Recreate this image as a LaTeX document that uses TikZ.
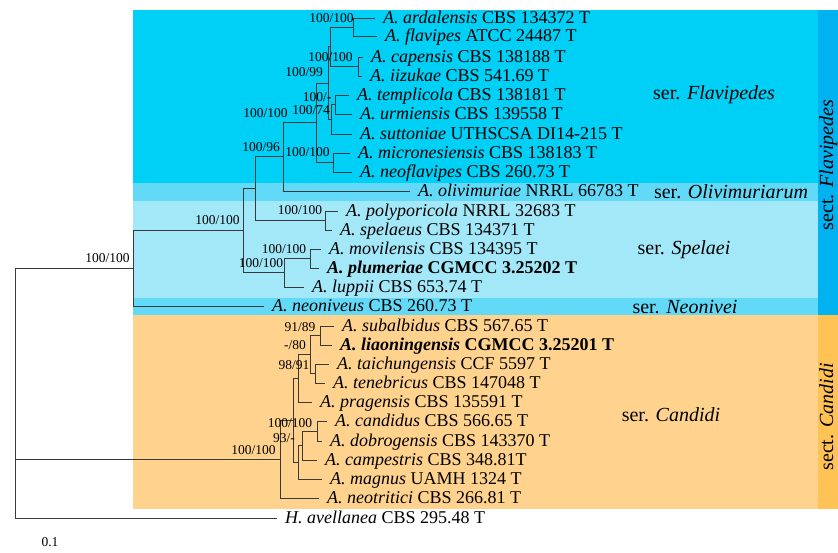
\documentclass[tikz,border=0pt]{standalone}
\usepackage{fontspec}
\setmainfont{Liberation Serif}
\usepackage{xcolor}
\usepackage{tikz}
\usetikzlibrary{backgrounds}
\definecolor{SerFlav}{HTML}{00CFF6}
\definecolor{SerOliv}{HTML}{62DAF7}
\definecolor{SerSpel}{HTML}{A3E8F9}
\definecolor{SerCand}{HTML}{FFD38E}
\definecolor{SectFlav}{HTML}{00B2F0}
\definecolor{SectCand}{HTML}{FFC255}
\definecolor{TreeLine}{HTML}{3A3A3A}

\begin{document}
\begin{tikzpicture}[
  x=1pt, y=-1pt,
  taxon/.style={anchor=west, inner xsep=8pt, inner ysep=0pt, text height=13.4pt, text depth=2.2pt, font=\fontsize{18}{19}\selectfont},
  boot/.style={inner sep=0pt, font=\fontsize{13.5}{14}\selectfont},
  serlab/.style={inner sep=0pt, font=\fontsize{20}{22}\selectfont},
  sectlab/.style={inner sep=0pt, anchor=base, rotate=90, font=\fontsize{20}{22}\selectfont},
  branch/.style={draw=TreeLine, line width=0.9pt}
]
  \useasboundingbox (0,0) rectangle (838,552);

  % taxa
  \node[taxon] (ardal) at (375,18) {\textit{A. ardalensis} CBS 134372 T};
  \node[taxon] (flav) at (377,36) {\textit{A. flavipes} ATCC 24487 T};
  \node[taxon] (capen) at (363,57) {\textit{A. capensis} CBS 138188 T};
  \node[taxon] (iizuk) at (362,76) {\textit{A. iizukae} CBS 541.69 T};
  \node[taxon] (templ) at (349,95) {\textit{A. templicola} CBS 138181 T};
  \node[taxon] (urmi) at (352,114) {\textit{A. urmiensis} CBS 139558 T};
  \node[taxon] (sutt) at (352,134) {\textit{A. suttoniae} UTHSCSA DI14-215 T};
  \node[taxon] (micro) at (350,153) {\textit{A. micronesiensis} CBS 138183 T};
  \node[taxon] (neofl) at (352,172) {\textit{A. neoflavipes} CBS 260.73 T};
  \node[taxon] (olivi) at (410,191) {\textit{A. olivimuriae} NRRL 66783 T};
  \node[taxon] (polyp) at (338,211) {\textit{A. polyporicola} NRRL 32683 T};
  \node[taxon] (spel) at (332,230) {\textit{A. spelaeus} CBS 134371 T};
  \node[taxon] (movil) at (321,249) {\textit{A. movilensis} CBS 134395 T};
  \node[taxon] (plum) at (319,268) {\textbf{\textit{A. plumeriae} CGMCC 3.25202 T}};
  \node[taxon] (lupp) at (304,287) {\textit{A. luppii} CBS 653.74 T};
  \node[taxon] (neon) at (264,306) {\textit{A. neoniveus} CBS 260.73 T};
  \node[taxon] (subal) at (334,326) {\textit{A. subalbidus} CBS 567.65 T};
  \node[taxon] (liao) at (332,345) {\textbf{\textit{A. liaoningensis} CGMCC 3.25201 T}};
  \node[taxon] (taich) at (329,364) {\textit{A. taichungensis} CCF 5597 T};
  \node[taxon] (teneb) at (325,383) {\textit{A. tenebricus} CBS 147048 T};
  \node[taxon] (prag) at (312,402) {\textit{A. pragensis} CBS 135591 T};
  \node[taxon] (cand) at (327,421) {\textit{A. candidus} CBS 566.65 T};
  \node[taxon] (dobro) at (322,441) {\textit{A. dobrogensis} CBS 143370 T};
  \node[taxon] (campe) at (317,460) {\textit{A. campestris} CBS 348.81T};
  \node[taxon] (magn) at (322,479) {\textit{A. magnus} UAMH 1324 T};
  \node[taxon] (neotr) at (319,498) {\textit{A. neotritici} CBS 266.81 T};
  \node[taxon] (avell) at (277,518) {\textit{H. avellanea} CBS 295.48 T};

  % internal nodes
  \coordinate (n_af) at (353,27);
  \coordinate (n_ci) at (358,66.5);
  \coordinate (n_ai) at (330,46.75);
  \coordinate (n_tu) at (335,104.5);
  \coordinate (n_ts) at (331,119);
  \coordinate (n_at) at (328,83);
  \coordinate (n_mn) at (333,162.5);
  \coordinate (n_fl) at (316,122.75);
  \coordinate (n_fo) at (283,156.9);
  \coordinate (n_ps) at (325,220.5);
  \coordinate (n_fp) at (255,188.7);
  \coordinate (n_mp) at (310,258.5);
  \coordinate (n_sp) at (284,272.75);
  \coordinate (n_fs) at (243,230.7);
  \coordinate (n_sect) at (133,268.4);
  \coordinate (n_sa) at (320,335.5);
  \coordinate (n_tt) at (315,373.5);
  \coordinate (n_st) at (310,354.5);
  \coordinate (n_pr) at (298,378.25);
  \coordinate (n_cd) at (317,431);
  \coordinate (n_cc) at (302,445.5);
  \coordinate (n_cm) at (298,462.25);
  \coordinate (n_cn) at (293,420.25);
  \coordinate (n_cand) at (280,459.1);
  \coordinate (root) at (15,393);

  \foreach \p/\c in {n_af/ardal, n_af/flav, n_ci/capen, n_ci/iizuk, n_ai/n_af, n_ai/n_ci,
      n_tu/templ, n_tu/urmi, n_ts/n_tu, n_ts/sutt, n_at/n_ai, n_at/n_ts,
      n_mn/micro, n_mn/neofl, n_fl/n_at, n_fl/n_mn, n_fo/n_fl, n_fo/olivi,
      n_ps/polyp, n_ps/spel, n_fp/n_fo, n_fp/n_ps, n_mp/movil, n_mp/plum,
      n_sp/n_mp, n_sp/lupp, n_fs/n_fp, n_fs/n_sp, n_sect/n_fs, n_sect/neon,
      n_sa/subal, n_sa/liao, n_tt/taich, n_tt/teneb, n_st/n_sa, n_st/n_tt,
      n_pr/n_st, n_pr/prag, n_cd/cand, n_cd/dobro, n_cc/n_cd, n_cc/campe,
      n_cm/n_cc, n_cm/magn, n_cn/n_pr, n_cn/n_cm, n_cand/n_cn, n_cand/neotr,
      root/n_sect, root/n_cand, root/avell}
    \draw[branch] (\p) |- (\c);

  % support values
  \node[boot] (b_af) at (331.5,18) {100/100};
  \node[boot] (b_ci) at (330.5,57) {100/100};
  \node[boot] (b_at) at (304,72) {100/99};
  \node[boot] (b_tu) at (317,97) {100/-};
  \node[boot] (b_ts) at (311,110) {100/74};
  \node[boot] (b_fl) at (265.5,113) {100/100};
  \node[boot] (b_mn) at (307.5,152) {100/100};
  \node[boot] (b_fo) at (261,147) {100/96};
  \node[boot] (b_ps) at (300,210) {100/100};
  \node[boot] (b_mp) at (284,249) {100/100};
  \node[boot] (b_sp) at (261,263) {100/100};
  \node[boot] (b_fs) at (217.5,220) {100/100};
  \node[boot] (b_sect) at (107.5,258) {100/100};
  \node[boot] (b_sa) at (300,327) {91/89};
  \node[boot] (b_st) at (295,345) {-/80};
  \node[boot] (b_tt) at (294,365) {98/91};
  \node[boot] (b_cd) at (290,423) {100/100};
  \node[boot] (b_cc) at (284,438) {93/-};
  \node[boot] (b_cand) at (253.5,450) {100/100};
  \node[boot] (scale) at (50,542) {0.1};

  % series and sections
  \node[serlab] (s_flav) at (714,95) {ser. \textit{Flavipedes}};
  \node[serlab] (s_oliv) at (731,192) {ser. \textit{Olivimuriarum}};
  \node[serlab] (s_spel) at (684,250) {ser. \textit{Spelaei}};
  \node[serlab] (s_neon) at (685,307) {ser. \textit{Neonivei}};
  \node[serlab] (s_cand) at (671,415) {ser. \textit{Candidi}};
  \node[sectlab] (c_flav) at (833,165) {sect. \textit{Flavipedes}};
  \node[sectlab] (c_cand) at (833,417) {sect. \textit{Candidi}};

  \begin{scope}[on background layer]
    \fill[SerFlav] (133,10) rectangle (818,183);
    \fill[SerOliv] (133,183) rectangle (818,201);
    \fill[SerSpel] (133,201) rectangle (818,298);
    \fill[SerOliv] (133,298) rectangle (818,315);
    \fill[SerCand] (133,315) rectangle (818,509);
    \fill[SectFlav] (818,10) rectangle (838,315);
    \fill[SectCand] (818,315) rectangle (838,509);
  \end{scope}
\end{tikzpicture}
\end{document}
